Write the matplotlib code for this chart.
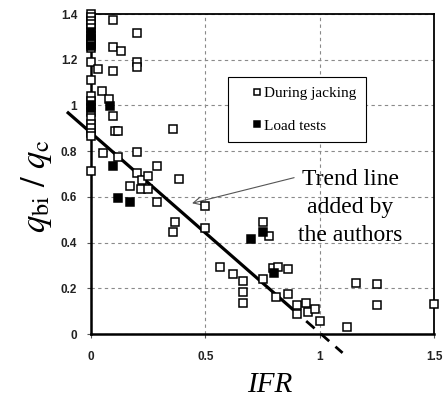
import matplotlib
matplotlib.use('Agg')
import matplotlib.pyplot as plt
import numpy as np

plt.rcParams['mathtext.fontset'] = 'stix'

# During jacking (open squares)
jack_x = [0, 0, 0, 0, 0, 0, 0, 0, 0, 0, 0, 0, 0, 0, 0, 0, 0, 0, 0, 0,
          0.098, 0.20, 0.098, 0.131, 0.029, 0.098, 0.20, 0.20, 0.047, 0.08,
          0.098, 0.105, 0.119, 0.36, 0.054, 0.20, 0.117, 0.287, 0.20, 0.222,
          0.25, 0.386, 0.171, 0.219, 0.248, 0.287, 0.50, 0.367, 0.36, 0.50,
          0.562, 0.622, 0.666, 0.666, 0.666, 0.751, 0.78, 0.751, 0.797, 0.819,
          0.86, 0.807, 0.86, 0.899, 0.94, 0.95, 0.98, 0.899, 1.0, 1.16,
          1.25, 1.25, 1.118, 1.50]
jack_y = [1.40, 1.385, 1.37, 1.355, 1.34, 1.29, 1.28, 1.27, 1.25, 1.19,
          1.11, 1.04, 1.02, 0.97, 0.945, 0.92, 0.90, 0.88, 0.865, 0.715,
          1.375, 1.317, 1.255, 1.239, 1.159, 1.151, 1.188, 1.166, 1.061, 1.027,
          0.955, 0.886, 0.89, 0.896, 0.794, 0.796, 0.773, 0.736, 0.704, 0.672,
          0.69, 0.677, 0.646, 0.636, 0.634, 0.579, 0.56, 0.492, 0.445, 0.463,
          0.293, 0.263, 0.233, 0.185, 0.134, 0.489, 0.43, 0.24, 0.288, 0.292,
          0.283, 0.161, 0.175, 0.127, 0.137, 0.096, 0.108, 0.088, 0.056, 0.222,
          0.219, 0.128, 0.031, 0.131]

# Load tests (filled squares)
load_x = [0, 0, 0, 0, 0, 0.083, 0.098, 0.119, 0.171, 0.70, 0.751, 0.80]
load_y = [1.32, 1.305, 1.26, 1.0, 0.988, 0.998, 0.735, 0.597, 0.578, 0.415, 0.448, 0.268]

# trend line y = a + b*IFR
trend_a = 0.88
trend_b = -0.875
trend_solid = [-0.1, 0.877]
trend_dash = [0.877, 1.1]

xticks = [0, 0.5, 1, 1.5]
xtick_labels = ['0', '0.5', '1', '1.5']
yticks = [0, 0.2, 0.4, 0.6, 0.8, 1.0, 1.2, 1.4]
ytick_labels = ['0', '0.2', '0.4', '0.6', '0.8', '1', '1.2', '1.4']

fig = plt.figure(figsize=(4.44, 4.05), dpi=100)
ax = fig.add_axes([0.205, 0.1753, 0.7725, 0.7901])

ax.set_xlim(0, 1.5)
ax.set_ylim(0, 1.4)

ax.grid(True, color='#8a8a8a', linestyle=(0, (3, 3)), linewidth=0.8)
ax.set_axisbelow(True)

xs = np.array(trend_solid)
ax.plot(xs, trend_a + trend_b * xs, '-', color='black', lw=2.3, clip_on=False, zorder=3)
xd = np.array(trend_dash)
ax.plot(xd, trend_a + trend_b * xd, color='black', lw=2.0, linestyle=(0, (4, 3)),
        clip_on=False, zorder=3)

ax.plot(jack_x, jack_y, 's', mfc='white', mec='black', ms=5.2, mew=1.1,
        clip_on=False, zorder=4, label='During jacking')
ax.plot(load_x, load_y, 's', mfc='black', mec='black', ms=5.2, mew=1.1,
        clip_on=False, zorder=4, label='Load tests')

for s in ['left', 'bottom']:
    ax.spines[s].set_linewidth(1.8)
for s in ['top', 'right']:
    ax.spines[s].set_linewidth(1.3)

ax.set_xticks(xticks)
ax.set_xticklabels(xtick_labels)
ax.set_yticks(yticks)
ax.set_yticklabels(ytick_labels)
ax.tick_params(direction='out', length=3, width=0.8, color='#555555')
ax.tick_params(axis='y', pad=7)
ax.tick_params(axis='x', pad=9)
for lab in ax.get_xticklabels() + ax.get_yticklabels():
    lab.set_family('Liberation Sans')
    lab.set_fontweight('bold')
    lab.set_fontsize(8.5)
    lab.set_color('#222222')

leg = ax.legend(loc='upper left', bbox_to_anchor=(0.40, 0.803), frameon=True,
                fancybox=False, edgecolor='black', framealpha=1,
                prop={'family': 'Liberation Serif', 'size': 11},
                handlelength=2.6, handletextpad=-0.85, borderpad=0.6,
                labelspacing=1.25, borderaxespad=0, markerscale=0.85)
leg.get_frame().set_linewidth(0.8)

ax.annotate('', xy=(0.43, 0.569), xytext=(0.90, 0.687),
            arrowprops=dict(arrowstyle='->', color='#555555', lw=0.8,
                            mutation_scale=14))
ax.text(1.135, 0.553, 'Trend line\nadded by\nthe authors', ha='center', va='center',
        family='Liberation Serif', fontsize=17, linespacing=1.45)

fig.text(0.083, 0.54, r'$q_{\mathrm{bi}}\ /\ q_{\mathrm{c}}$', rotation=90,
         ha='center', va='center', fontsize=25)
fig.text(0.608, 0.05, 'IFR', ha='center', va='center', family='Liberation Serif',
         style='italic', fontsize=21)

fig.savefig('out.png', dpi=100)
